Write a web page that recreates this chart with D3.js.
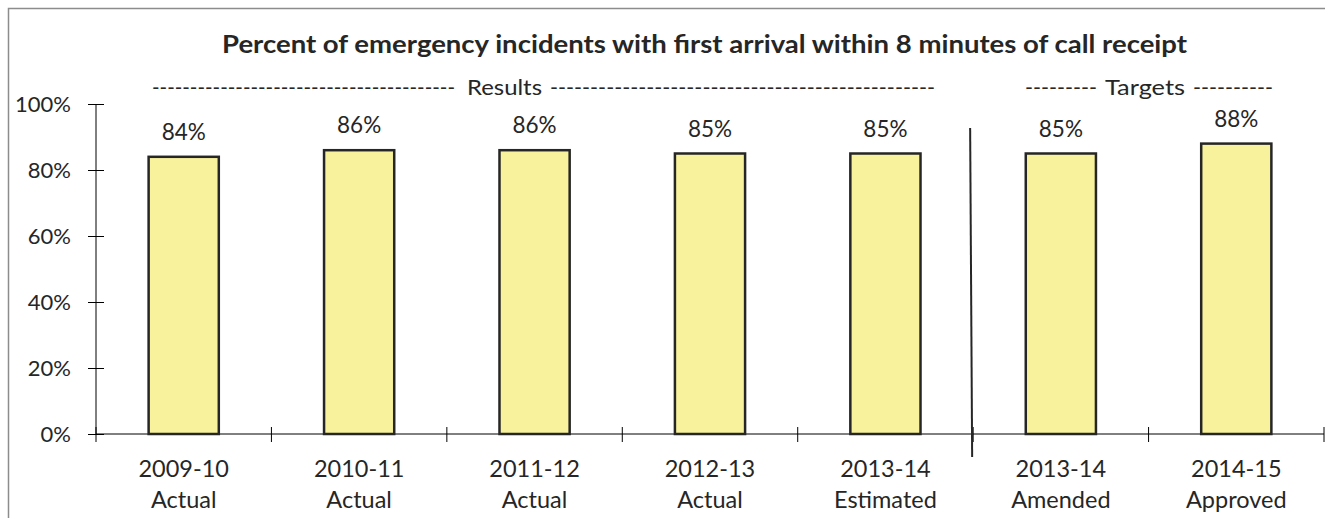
<!DOCTYPE html>
<html><head><meta charset="utf-8">
<script src="https://cdn.jsdelivr.net/npm/d3@7"></script>
<style>body{margin:0;background:#fff;} text{font-family:Lato, "Open Sans", sans-serif;fill:#262626;}</style>
</head><body>
<svg id="c" width="1325" height="518"></svg>
<script>
const years = ["2009-10","2010-11","2011-12","2012-13","2013-14","2013-14","2014-15"];
const kinds = ["Actual","Actual","Actual","Actual","Estimated","Amended","Approved"];
const values = [0.84,0.86,0.86,0.85,0.85,0.85,0.88];
const yTicks = [0,0.2,0.4,0.6,0.8,1.0];
const title = "Percent of emergency incidents with first arrival within 8 minutes of call receipt";

const svg = d3.select("#c");
svg.append("rect").attr("x",8.5).attr("y",8.5).attr("width",1330).attr("height",530)
  .attr("fill","none").attr("stroke","#8c8c8c").attr("stroke-width",1.5);

const idx = d3.range(values.length);
const x = d3.scaleBand().domain(idx).range([96,1324]).padding(0);
const y = d3.scaleLinear().domain([0,1]).range([434,104]);
const bw = x.bandwidth();

// title
svg.append("text").attr("x",222).attr("y",53).attr("textLength",965).attr("lengthAdjust","spacingAndGlyphs")
  .style("font-weight","bold").style("font-size","24px").attr("fill","#000").text(title);

// y axis
const ya = svg.append("g").attr("transform","translate(96,0)")
  .call(d3.axisLeft(y).tickValues(yTicks).tickFormat(d3.format(".0%")).tickSize(8).tickPadding(0));
ya.select(".domain").attr("stroke","#000").attr("stroke-width",1).attr("d","M0,104V434");
ya.selectAll(".tick line").attr("x1",-8).attr("x2",8).attr("stroke","#000");
ya.selectAll(".tick text").attr("x",-25).attr("dy","0.36em").style("font-size","22px").style("font-family","Lato").attr("fill","#262626");

// x axis line and ticks
svg.append("line").attr("x1",96).attr("x2",1324).attr("y1",y(0)).attr("y2",y(0)).attr("stroke","#000").attr("stroke-width",1);
const bounds = idx.map(i=>x(i)).concat([x(idx[idx.length-1])+bw]);
svg.selectAll(".xt").data(bounds).join("line").attr("class","xt")
  .attr("x1",d=>d).attr("x2",d=>d).attr("y1",y(0)-7).attr("y2",y(0)+8).attr("stroke","#000").attr("stroke-width",1);

// bars
svg.selectAll(".bar").data(idx).join("rect").attr("class","bar")
  .attr("x",i=>x(i)+bw*0.3).attr("width",bw*0.4)
  .attr("y",i=>y(values[i])).attr("height",i=>y(0)-y(values[i]))
  .attr("fill","#F8F29C").attr("stroke","#262626").attr("stroke-width",2.5);

// value labels
svg.selectAll(".vl").data(idx).join("text").attr("class","vl")
  .attr("x",i=>x(i)+bw/2).attr("y",i=>y(values[i])-17).attr("text-anchor","middle")
  .style("font-size","22.5px").text(i=>d3.format(".0%")(values[i]));

// x labels
svg.selectAll(".xl1").data(idx).join("text").attr("class","xl1")
  .attr("x",i=>x(i)+bw/2).attr("y",477).attr("text-anchor","middle").style("font-size","23.5px").text(i=>years[i]);
svg.selectAll(".xl2").data(idx).join("text").attr("class","xl2")
  .attr("x",i=>x(i)+bw/2).attr("y",508).attr("text-anchor","middle").style("font-size","23.5px").text(i=>kinds[i]);

// separator
const sx = x(5);
svg.append("line").attr("x1",sx-3).attr("y1",128).attr("x2",sx-1).attr("y2",457).attr("stroke","#262626").attr("stroke-width",2);

// header group labels
function dashLabel(x0, x1, n) {
  svg.append("text").attr("x",x0).attr("y",95).attr("textLength",x1-x0).attr("lengthAdjust","spacingAndGlyphs")
    .style("font-size","21px").text("-".repeat(n));
}
dashLabel(152,455,40);
svg.append("text").attr("x",467).attr("y",95).attr("textLength",75).attr("lengthAdjust","spacingAndGlyphs").style("font-size","22px").text("Results");
dashLabel(550,935,48);
dashLabel(1025,1097,9);
svg.append("text").attr("x",1105).attr("y",95).attr("textLength",80).attr("lengthAdjust","spacingAndGlyphs").style("font-size","22px").text("Targets");
dashLabel(1193,1273,10);
</script>
</body></html>
